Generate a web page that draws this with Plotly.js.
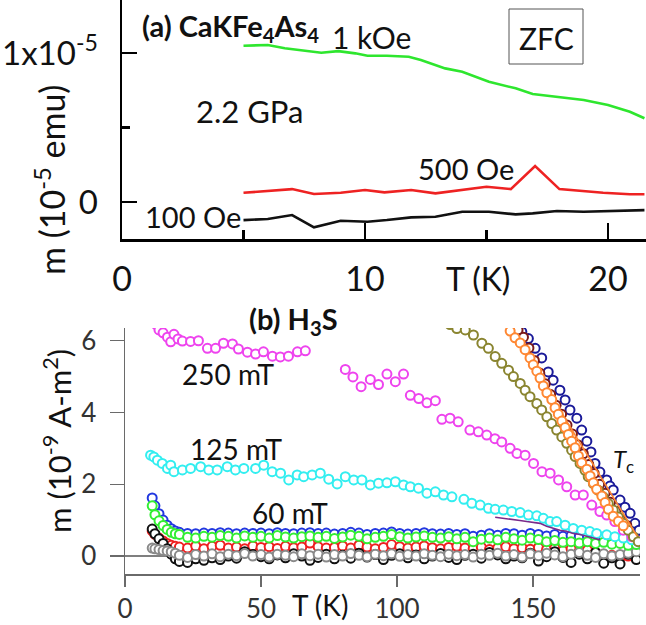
<!DOCTYPE html>
<html>
<head>
<meta charset="utf-8">
<script src="https://cdn.plot.ly/plotly-3.0.1.min.js"></script>
<style>
  html, body { margin: 0; padding: 0; background: #ffffff; }
  #chart { width: 646px; height: 625px; }
</style>
</head>
<body>
<div id="chart"></div>
<script>
// ---------- (a) CaKFe4As4, 2.2 GPa, ZFC : m in units of 1e-5 emu ----------
const tA_1kOe = [5.0, 6.0, 6.7, 7.5, 8.2, 8.9, 9.6, 10.1, 10.9, 11.8, 12.3, 13.3, 14.0, 15.1, 16.2, 16.9, 17.9, 19.0, 20.0, 20.9, 21.5];
const mA_1kOe = [1.049, 1.054, 1.032, 1.015, 1.002, 1.013, 0.998, 0.982, 0.982, 0.975, 0.953, 0.897, 0.874, 0.807, 0.763, 0.725, 0.707, 0.685, 0.651, 0.606, 0.562];

const tA_500Oe = [5.0, 6.0, 7.0, 7.9, 9.0, 10.0, 10.8, 11.9, 12.9, 15.0, 16.0, 17.0, 18.0, 19.8, 20.9, 21.5];
const mA_500Oe = [0.062, 0.074, 0.087, 0.054, 0.062, 0.081, 0.065, 0.081, 0.058, 0.103, 0.087, 0.242, 0.087, 0.062, 0.052, 0.052];

const tA_100Oe = [5.0, 6.0, 7.0, 7.9, 9.0, 10.1, 10.9, 11.9, 12.9, 14.0, 15.1, 16.2, 16.9, 17.9, 19.0, 20.0, 21.5];
const mA_100Oe = [-0.121, -0.114, -0.087, -0.170, -0.126, -0.132, -0.121, -0.103, -0.099, -0.065, -0.065, -0.083, -0.076, -0.060, -0.065, -0.060, -0.054];

// ---------- (b) H3S : m in units of 1e-9 A m^2 ----------
// shared temperature grid of the low-field runs
const tLow = [10, 11, 12.5, 14, 15.5, 17, 18.5, 20, 23, 26, 29, 32, 35, 38, 41, 44, 47, 50, 53, 56, 59, 62, 65, 68, 71, 74, 77, 80, 83, 86, 89, 92, 95, 98, 101, 104, 107, 110, 113, 116, 119, 122, 125, 128, 131, 134, 137, 140, 143, 146, 149, 152, 155, 158, 161, 164, 167, 170, 173, 176, 179, 182, 185, 188];
const mBlue = [1.62, 1.40, 1.18, 1.00, 0.86, 0.76, 0.70, 0.66, 0.63, 0.62, 0.64, 0.63, 0.65, 0.64, 0.62, 0.64, 0.63, 0.64, 0.62, 0.65, 0.63, 0.62, 0.64, 0.65, 0.63, 0.64, 0.61, 0.63, 0.66, 0.64, 0.60, 0.63, 0.64, 0.67, 0.63, 0.61, 0.63, 0.65, 0.62, 0.61, 0.63, 0.60, 0.62, 0.55, 0.58, 0.62, 0.58, 0.63, 0.62, 0.58, 0.63, 0.60, 0.56, 0.60, 0.55, 0.57, 0.54, 0.56, 0.52, 0.53, 0.48, 0.48, 0.45, 0.44];
const mRed = [0.70, 0.60, 0.50, 0.42, 0.35, 0.30, 0.27, 0.25, 0.22, 0.28, 0.20, 0.27, 0.30, 0.22, 0.25, 0.20, 0.28, 0.24, 0.26, 0.21, 0.27, 0.23, 0.25, 0.36, 0.26, 0.22, 0.24, 0.28, 0.22, 0.30, 0.25, 0.20, 0.24, 0.32, 0.26, 0.22, 0.25, 0.28, 0.23, 0.20, 0.24, 0.27, 0.22, 0.20, 0.25, 0.18, 0.22, 0.26, 0.20, 0.23, 0.19, 0.24, 0.18, 0.22, 0.15, 0.20, 0.12, 0.17, 0.10, 0.05, 0.02, -0.05, 0.00, -0.08];
const mBlack = [0.75, 0.62, 0.48, 0.35, 0.20, 0.05, -0.08, -0.15, -0.18, -0.08, -0.12, -0.05, -0.10, 0.00, -0.06, 0.12, 0.04, -0.02, -0.08, 0.03, -0.05, 0.06, 0.00, -0.12, -0.04, 0.05, -0.08, 0.02, -0.06, 0.08, -0.03, 0.04, -0.10, 0.02, 0.06, -0.05, 0.03, -0.08, 0.00, 0.07, -0.04, -0.10, 0.02, 0.05, -0.06, 0.10, 0.03, -0.08, 0.00, -0.05, 0.08, -0.14, -0.02, 0.12, -0.04, -0.18, 0.05, -0.08, 0.10, -0.20, -0.05, -0.22, 0.05, -0.10];
const mGrey = [0.22, 0.20, 0.18, 0.15, 0.14, 0.12, 0.08, 0.02, -0.04, 0.04, 0.00, 0.06, -0.02, 0.05, 0.01, 0.07, 0.00, 0.04, -0.03, 0.05, 0.02, -0.02, 0.06, 0.01, 0.05, -0.03, 0.04, 0.00, 0.07, 0.02, -0.02, 0.05, 0.01, 0.06, -0.01, 0.04, 0.00, 0.06, 0.02, -0.02, 0.05, 0.01, 0.04, -0.03, 0.05, 0.02, 0.08, 0.00, 0.04, -0.03, 0.06, 0.01, 0.08, 0.03, -0.02, 0.05, 0.10, 0.02, -0.04, 0.06, 0.00, 0.04, 0.08, 0.12];
const m60mT = [1.40, 1.15, 0.98, 0.85, 0.74, 0.66, 0.62, 0.60, 0.52, 0.50, 0.55, 0.52, 0.57, 0.55, 0.50, 0.56, 0.52, 0.55, 0.50, 0.57, 0.53, 0.50, 0.54, 0.56, 0.52, 0.55, 0.49, 0.53, 0.58, 0.55, 0.48, 0.52, 0.55, 0.60, 0.54, 0.50, 0.53, 0.56, 0.52, 0.50, 0.54, 0.48, 0.52, 0.40, 0.47, 0.50, 0.45, 0.52, 0.48, 0.44, 0.50, 0.46, 0.40, 0.43, 0.38, 0.40, 0.36, 0.40, 0.35, 0.38, 0.33, 0.35, 0.30, 0.32];

const t125mT = [9.4, 10.6, 11.9, 13.7, 15.6, 16.8, 18.0, 21.1, 24.1, 27.8, 30.8, 33.9, 37.6, 40.6, 43.7, 48.0, 51.0, 54.1, 57.2, 60.2, 63.3, 65.7, 68.8, 71.8, 74.9, 78.0, 81.0, 84.1, 87.1, 90.2, 93.2, 96.3, 99.4, 102.4, 104.9, 107.9, 111.0, 114.1, 117.1, 120.2, 124.6, 127.5, 130.6, 133.6, 136.1, 139.1, 142.2, 145.3, 148.3, 151.4, 153.8, 156.3, 158.7, 161.8, 164.8, 167.9, 170.9, 173.4, 177.1, 180.1, 183.2, 186.3, 188.7];
const m125mT = [2.81, 2.76, 2.67, 2.58, 2.44, 2.53, 2.35, 2.40, 2.44, 2.49, 2.40, 2.40, 2.49, 2.40, 2.44, 2.44, 2.53, 2.35, 2.31, 2.12, 2.26, 2.21, 2.26, 2.31, 2.14, 2.01, 2.21, 2.12, 2.12, 1.98, 2.03, 2.04, 2.07, 1.98, 1.93, 1.89, 1.75, 1.79, 1.70, 1.65, 1.58, 1.47, 1.42, 1.33, 1.30, 1.28, 1.24, 1.21, 1.14, 1.12, 1.05, 0.96, 0.96, 0.86, 0.77, 0.72, 0.68, 0.63, 0.59, 0.54, 0.50, 0.45, 0.40];

const t250mT = [9.5, 10.5, 11.5, 12.5, 14.0, 15.6, 16.8, 18.0, 19.5, 21.1, 24.1, 27.0, 30.3, 33.3, 36.2, 39.5, 41.7, 45.0, 48.0, 50.9, 54.2, 57.1, 60.1, 63.4, 66.3, 81.0, 83.8, 86.8, 90.2, 93.2, 96.3, 99.4, 102.4, 104.9, 108.0, 111.0, 114.1, 116.5, 119.5, 122.5, 126.8, 129.9, 133.0, 136.0, 138.5, 141.6, 144.1, 147.1, 150.2, 153.3, 156.3, 159.4, 162.4, 165.5, 168.5, 171.6, 174.6, 177.1, 180.1, 183.2, 186.3, 188.7];
const m250mT = [6.75, 6.6, 6.45, 6.3, 6.22, 6.1, 5.97, 6.18, 6.05, 5.99, 5.98, 6.0, 5.79, 5.79, 5.93, 5.91, 5.77, 5.68, 5.63, 5.69, 5.57, 5.55, 5.57, 5.69, 5.72, 5.20, 4.99, 4.72, 4.92, 4.78, 5.07, 4.86, 5.07, 4.48, 4.39, 4.27, 4.33, 3.81, 3.84, 3.74, 3.51, 3.46, 3.37, 3.27, 3.18, 3.00, 2.86, 2.81, 2.58, 2.35, 2.31, 2.12, 1.93, 1.70, 1.70, 1.42, 1.24, 1.14, 0.96, 0.72, 0.54, 0.45];

const tPurple = [136.1, 139.5, 142.8, 145.2, 147.7, 150.1, 152.6, 155.0, 157.4, 159.9, 162.3, 164.8, 167.3, 169.8, 172.2, 174.6];
const mPurple = [1.08, 1.05, 1.03, 0.99, 0.96, 0.94, 0.91, 0.83, 0.77, 0.72, 0.69, 0.63, 0.60, 0.54, 0.50, 0.45];

const tNavy = [145.9, 148.3, 150.8, 153.2, 155.6, 157.4, 159.9, 161.8, 163.6, 166.1, 167.9, 169.8, 171.3, 172.8, 174.6, 177.1, 178.3, 179.5, 182.0, 183.8, 185.7, 187.5, 189.0];
const mNavy = [6.25, 6.06, 5.79, 5.52, 5.13, 4.90, 4.62, 4.35, 4.07, 3.84, 3.51, 3.20, 2.90, 2.58, 2.34, 2.12, 1.95, 1.84, 1.56, 1.36, 1.19, 0.91, 0.72];

const tMaroon = [144.5, 146.5, 148.5, 150.5, 152.5, 154.5, 156.5, 158.5, 160.5, 162.5, 164.5, 166.5, 168.5, 170.5, 172.5, 174.5, 176.5, 178.5, 180.5, 182.5, 184.5];
const mMaroon = [6.3, 6.1, 5.8, 5.45, 5.1, 4.8, 4.5, 4.2, 3.95, 3.65, 3.4, 3.1, 2.85, 2.55, 2.3, 2.0, 1.75, 1.5, 1.25, 1.0, 0.85];

const tOlive = [119.5, 122.0, 125.1, 128.1, 131.2, 133.6, 136.1, 138.5, 141.0, 142.8, 145.3, 147.1, 148.9, 151.4, 153.2, 155.1, 156.9, 158.7, 160.6, 162.4, 164.2, 165.5, 167.3, 169.1, 170.3, 172.2, 174.0, 175.8, 177.7, 179.5, 181.4, 183.2, 185.0, 186.9, 188.7];
const mOlive = [6.45, 6.34, 6.30, 6.16, 5.93, 5.79, 5.56, 5.37, 5.18, 5.00, 4.81, 4.62, 4.44, 4.25, 4.07, 3.88, 3.69, 3.51, 3.32, 3.14, 2.95, 2.77, 2.58, 2.39, 2.21, 2.02, 1.83, 1.65, 1.46, 1.28, 1.09, 0.91, 0.72, 0.54, 0.40];

const tOrange = [141.6, 143.4, 145.3, 147.1, 148.9, 150.1, 151.4, 152.6, 153.8, 155.1, 156.9, 158.1, 159.3, 160.6, 161.8, 163.0, 164.2, 165.5, 166.7, 167.9, 169.8, 171.0, 172.2, 173.4, 175.3, 176.5, 177.7, 179.5, 181.4, 183.2];
const mOrange = [6.27, 6.08, 5.94, 5.75, 5.52, 5.33, 5.15, 4.96, 4.74, 4.55, 4.36, 4.13, 3.95, 3.76, 3.58, 3.39, 3.20, 3.02, 2.79, 2.60, 2.42, 2.23, 2.04, 1.86, 1.67, 1.49, 1.30, 1.11, 0.97, 0.84];
const tOrangeFit = [141.0, 188.3];
const mOrangeFit = [6.40, 0.55];

// ---------- drawing ----------
const W = 646, H = 625;
const FONT = 'Lato, "Open Sans", "DejaVu Sans", sans-serif';
const px = x => x / W;
const py = y => 1 - y / H;

function lineTrace(x, y, color) {
  return { x, y, xaxis: 'x', yaxis: 'y', type: 'scatter', mode: 'lines',
           line: { color, width: 2.6 }, hoverinfo: 'skip' };
}
function ringTrace(x, y, color) {
  return { x, y, xaxis: 'x2', yaxis: 'y2', type: 'scatter', mode: 'markers',
           marker: { symbol: 'circle', size: 9, color: '#ffffff', line: { color, width: 2 } },
           hoverinfo: 'skip' };
}

const traces = [
  lineTrace(tA_1kOe, mA_1kOe, '#2ee62e'),
  lineTrace(tA_500Oe, mA_500Oe, '#ee2222'),
  lineTrace(tA_100Oe, mA_100Oe, '#111111'),

  ringTrace(tLow, mBlue, '#2238e0'),
  ringTrace(tLow, mRed, '#ee2020'),
  ringTrace(tLow, mBlack, '#111111'),
  ringTrace(tLow, mGrey, '#8a8a8a'),
  ringTrace(tLow, m60mT, '#33ee33'),
  ringTrace(t125mT, m125mT, '#33eef0'),
  ringTrace(t250mT, m250mT, '#ee44ee'),
  { x: tPurple, y: mPurple, xaxis: 'x2', yaxis: 'y2', type: 'scatter', mode: 'lines',
    line: { color: '#7a2a8a', width: 1.6 }, hoverinfo: 'skip' },
  ringTrace(tNavy, mNavy, '#1a1a99'),
  ringTrace(tMaroon, mMaroon, '#7a1a1a'),
  ringTrace(tOlive, mOlive, '#8a8530'),
  { x: tOrangeFit, y: mOrangeFit, xaxis: 'x2', yaxis: 'y2', type: 'scatter', mode: 'lines',
    line: { color: '#ff8833', width: 1.6 }, hoverinfo: 'skip' },
  ringTrace(tOrange, mOrange, '#ff8833')
];

function ann(text, x, y, size, extra) {
  return Object.assign({
    text, x: px(x), y: py(y), xref: 'paper', yref: 'paper', showarrow: false,
    xanchor: 'center', yanchor: 'middle',
    font: { family: FONT, size, color: '#111111' }
  }, extra || {});
}

const layout = {
  width: W, height: H,
  margin: { l: 0, r: 0, t: 0, b: 0 },
  paper_bgcolor: '#ffffff', plot_bgcolor: 'rgba(0,0,0,0)',
  showlegend: false,
  font: { family: FONT, color: '#111111' },

  xaxis: {
    domain: [px(122), 1], anchor: 'y', range: [0, (646 - 122) / 24.3],
    showline: true, linecolor: '#000000', linewidth: 2.5,
    showgrid: false, zeroline: false,
    tickmode: 'array', tickvals: [0, 10, 20], ticktext: ['0', '10', '20'],
    ticks: 'inside', ticklen: 16, tickwidth: 2.5, tickcolor: '#000000',
    minor: { tickmode: 'array', tickvals: [5, 15], ticks: 'inside', ticklen: 9, tickwidth: 2.5, tickcolor: '#000000' },
    tickfont: { family: FONT, size: 34, color: '#111111' }, ticklabelstandoff: 9
  },
  yaxis: {
    domain: [py(239), 1], anchor: 'x', range: [-0.248, 1.356],
    showline: true, linecolor: '#000000', linewidth: 2.5,
    showgrid: false, zeroline: false,
    tickmode: 'array', tickvals: [0, 1], ticktext: ['0', '1x10<sup>-5</sup>'],
    ticks: 'inside', ticklen: 15, tickwidth: 2.5, tickcolor: '#000000',
    minor: { tickmode: 'array', tickvals: [0.5], ticks: 'inside', ticklen: 8, tickwidth: 2.5, tickcolor: '#000000' },
    tickfont: { family: FONT, size: 33, color: '#111111' }, ticklabelstandoff: 15
  },

  xaxis2: {
    domain: [px(125), px(640)], anchor: 'y2', range: [0, (640 - 125) / 2.72],
    showline: true, linecolor: '#6a6a6a', linewidth: 1.4,
    showgrid: false, zeroline: false,
    tickmode: 'array', tickvals: [0, 50, 100, 150],
    ticks: 'outside', ticklen: 11, tickwidth: 1.4, tickcolor: '#6a6a6a',
    tickfont: { family: FONT, size: 26, color: '#333333' }, ticklabelstandoff: 0
  },
  yaxis2: {
    domain: [py(574.3), py(328)], anchor: 'x2', range: [-0.51, 6.355],
    showline: true, linecolor: '#6a6a6a', linewidth: 1.4,
    showgrid: false, zeroline: false,
    tickmode: 'array', tickvals: [0, 2, 4, 6],
    ticks: 'outside', ticklen: 14, tickwidth: 1.4, tickcolor: '#6a6a6a',
    tickfont: { family: FONT, size: 26, color: '#333333' }, ticklabelstandoff: 8
  },

  shapes: [
    // zero reference line of panel (b)
    { type: 'line', xref: 'paper', yref: 'y2', x0: px(110), x1: px(640), y0: 0, y1: 0,
      line: { color: '#000000', width: 1.2 }, layer: 'below' },
    // frame round the ZFC label
    { type: 'rect', xref: 'paper', yref: 'paper', x0: px(509), x1: px(583), y0: py(64), y1: py(9),
      line: { color: '#555555', width: 1 }, fillcolor: 'rgba(0,0,0,0)' }
  ],

  annotations: [
    ann('<b>(a) CaKFe<sub>4</sub>As<sub>4</sub></b>', 140, 27, 29, { xanchor: 'left' }),
    ann('1 kOe', 371, 37, 30),
    ann('ZFC', 546, 38, 30),
    ann('2.2 GPa', 249, 111, 31),
    ann('500 Oe', 466, 169, 29),
    ann('100 Oe', 193, 217, 29),
    ann('m (10<sup>-5</sup> emu)', 50, 180, 34, { textangle: -90 }),
    ann('T (K)', 478, 278, 32),

    ann('<b>(b) H<sub>3</sub>S</b>', 247, 321, 29, { xanchor: 'left' }),
    ann('250 mT', 228, 374, 28),
    ann('125 mT', 236, 449, 28),
    ann('60 mT', 290, 513, 28),
    ann('<i>T</i><sub>c</sub>', 623, 460, 24),
    ann('m (10<sup>-9</sup> A-m<sup>2</sup>)', 57, 441, 31, { textangle: -90 }),
    ann('T (K)', 320, 605, 28)
  ]
};

Plotly.newPlot('chart', traces, layout, { staticPlot: true, displayModeBar: false });
</script>
</body>
</html>
